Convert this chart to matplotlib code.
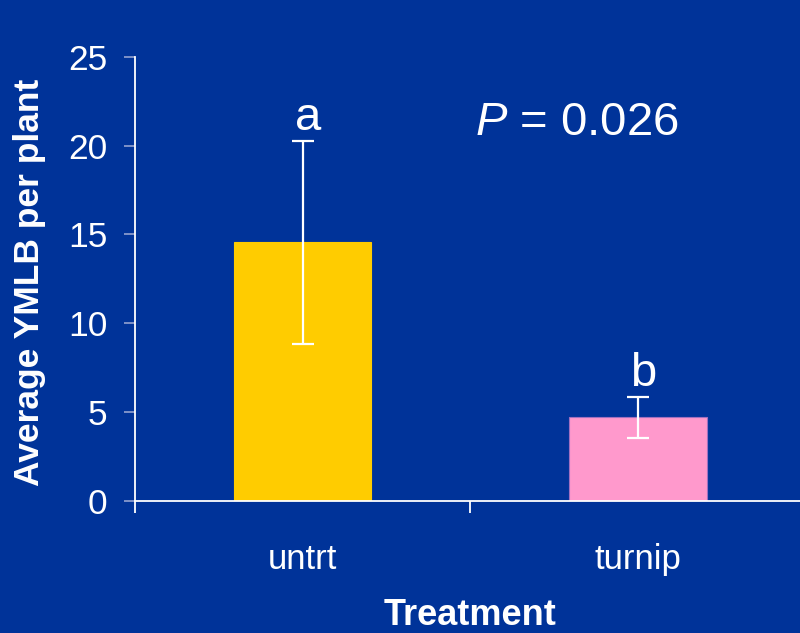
import matplotlib
matplotlib.use("Agg")
import matplotlib.pyplot as plt
import numpy as np

categories = ["untrt", "turnip"]
means = [14.55, 4.72]
errors = [5.7, 1.15]
letters = ["a", "b"]
p_text = "0.026"
y_ticks = [0, 5, 10, 15, 20, 25]

BG = "#003399"
bar_colors = ["#FFCC00", "#FF99CC"]
edge_colors = ["#FFCC00", "#A070C0"]

plt.rcParams["font.family"] = ["Liberation Sans", "DejaVu Sans"]
plt.rcParams["mathtext.fontset"] = "custom"
plt.rcParams["mathtext.it"] = "Liberation Sans:italic"
plt.rcParams["mathtext.rm"] = "Liberation Sans"

fig = plt.figure(figsize=(8.0, 6.33), dpi=100, facecolor=BG)
ax = fig.add_axes([0.16875, 0.2085, 0.838, 0.7019])
ax.set_facecolor(BG)

x = np.arange(len(categories))
ax.bar(x, means, width=0.41, color=bar_colors, edgecolor=edge_colors,
       linewidth=0.8, zorder=2)
ax.errorbar(x, means, yerr=errors, fmt="none", ecolor="white",
            elinewidth=1.6, capsize=7.8, capthick=1.6, zorder=3)

ax.set_xlim(-0.5, 1.5)
ax.set_ylim(0, 25)
ax.set_yticks(y_ticks)
ax.set_yticklabels([str(v) for v in y_ticks])
ax.set_xticks(x)
ax.set_xticklabels(categories)
ax.set_xticks([-0.5, 0.5, 1.5], minor=True)

for s in ["top", "right"]:
    ax.spines[s].set_visible(False)
for s in ["left", "bottom"]:
    ax.spines[s].set_color("white")
    ax.spines[s].set_linewidth(1.3)

ax.tick_params(axis="y", which="major", direction="out", length=8,
               width=1.3, color="#8899CC", labelcolor="white",
               labelsize=25.5, pad=12)
ax.tick_params(axis="x", which="major", length=0, labelcolor="white",
               labelsize=25, pad=30)
ax.tick_params(axis="x", which="minor", direction="out", length=8.5,
               width=1.3, color="white")

ax.set_xlabel("Treatment", fontsize=26, fontweight="bold", color="white")
ax.xaxis.set_label_coords(0.5, -0.279)
ax.xaxis.label.set_va("baseline")
ax.set_ylabel("Average YMLB per plant", fontsize=25.5, fontweight="bold",
              color="white")
ax.yaxis.set_label_coords(-0.158, 0.493)
ax.yaxis.label.set_va("center")

letter_y = [m + e + 0.6 for m, e in zip(means, errors)]
for xi, yi, lt in zip(x, letter_y, letters):
    ax.text(xi + 0.015, yi, lt, ha="center", va="baseline",
            fontsize=34, color="white", zorder=4)

ax.text(0.513, 20.6, "$P$ = " + p_text, ha="left", va="baseline",
        fontsize=34, color="white")

fig.savefig("out.png", dpi=100, facecolor=BG)
